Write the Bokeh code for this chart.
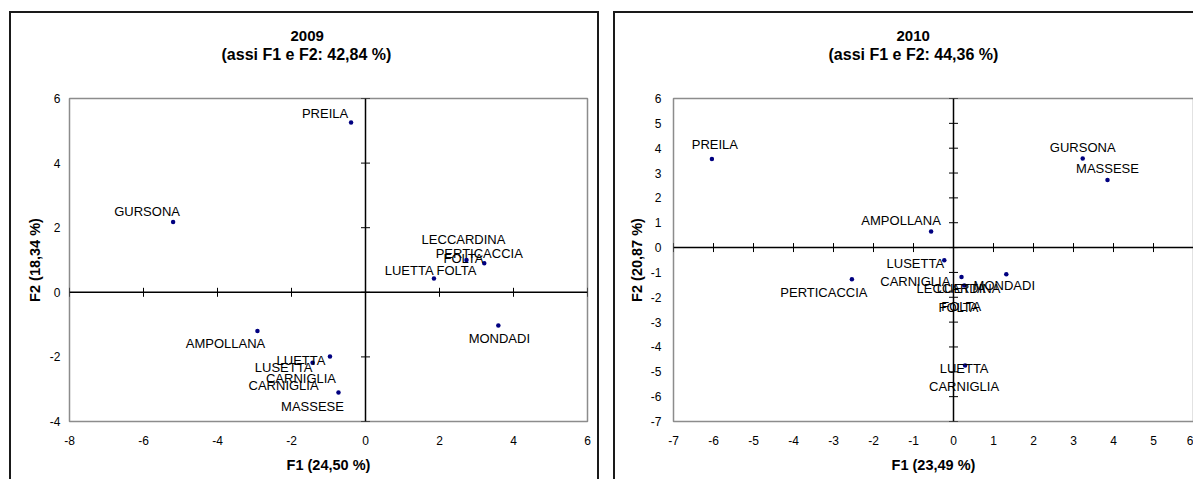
import math
from bokeh.plotting import figure
from bokeh.models import (Range1d, LinearAxis, FixedTicker, Span, Title, ColumnDataSource,
                          CustomJSTickFormatter)
from bokeh.layouts import row
from bokeh.embed import file_html
from bokeh.resources import INLINE
from bokeh.core.properties import value

# ---------------- data ----------------
# 2009
title_2009 = "2009"
subtitle_2009 = "(assi F1 e F2: 42,84 %)"
xlabel_2009 = "F1 (24,50 %)"
ylabel_2009 = "F2 (18,34 %)"
labels_2009 = ["PREILA", "GURSONA", "LECCARDINA\nFOLTA", "PERTICACCIA", "LUETTA FOLTA",
               "MONDADI", "AMPOLLANA", "LUETTA\nCARNIGLIA", "LUSETTA\nCARNIGLIA", "MASSESE"]
f1_2009 = [-0.39, -5.20, 2.73, 3.21, 1.85, 3.59, -2.92, -0.96, -1.43, -0.73]
f2_2009 = [5.26, 2.18, 1.00, 0.90, 0.43, -1.03, -1.20, -1.99, -2.18, -3.10]
xticks_2009 = [-8, -6, -4, -2, 0, 2, 4, 6]
yticks_2009 = [-4, -2, 0, 2, 4, 6]

# 2010
title_2010 = "2010"
subtitle_2010 = "(assi F1 e F2: 44,36 %)"
xlabel_2010 = "F1 (23,49 %)"
ylabel_2010 = "F2 (20,87 %)"
labels_2010 = ["PREILA", "GURSONA", "MASSESE", "AMPOLLANA", "LUSETTA\nCARNIGLIA",
               "PERTICACCIA", "LECCARDINA\nFOLTA", "LUETTA\nFOLTA", "MONDADI", "LUETTA\nCARNIGLIA"]
f1_2010 = [-6.04, 3.23, 3.85, -0.56, -0.23, -2.54, 0.20, 0.27, 1.32, 0.29]
f2_2010 = [3.57, 3.59, 2.72, 0.65, -0.51, -1.27, -1.18, -1.53, -1.07, -4.75]
xticks_2010 = [-7, -6, -5, -4, -3, -2, -1, 0, 1, 2, 3, 4, 5, 6]
yticks_2010 = [-7, -6, -5, -4, -3, -2, -1, 0, 1, 2, 3, 4, 5, 6]

# label placement (pixel offsets of each label from its point) - styling only
dx_2009 = [-26, -26, -3, -5, -3, 1, -32, -29, -29, -26]
dy_2009 = [-9, -10, -11, -10, -8, 13, 12, 13, 14, 14]
dx_2010 = [3, 0, 0, -30, -29, -28, -3, -3, -2, -1]
dy_2010 = [-14, -11, -11, -11, 12, 13, 21, 12, 11, 12]

FONT = "Liberation Sans"
BORDER = "2px solid #1a1a1a"


def make_panel(title, subtitle, xlabel, ylabel, labels, f1, f2, xticks, yticks, dx, dy,
               width, height, mb_left, mb_right, mb_top, mb_bottom,
               main_offset, sub_offset, y_label_standoff, y_axis_label_standoff, borders):
    p = figure(width=width, height=height,
               x_range=Range1d(min(xticks), max(xticks)),
               y_range=Range1d(min(yticks), max(yticks)),
               output_backend="svg", toolbar_location=None, title=None,
               x_axis_type=None, y_axis_type=None,
               min_border_left=mb_left, min_border_right=mb_right,
               min_border_top=mb_top, min_border_bottom=mb_bottom)
    p.background_fill_color = "white"
    p.border_fill_color = "white"
    p.outline_line_color = "#8c8c8c"
    p.outline_line_width = 1.5
    p.styles = borders

    fmt = CustomJSTickFormatter(code="return String(tick);")
    xa = LinearAxis(ticker=FixedTicker(ticks=xticks), formatter=fmt)
    ya = LinearAxis(ticker=FixedTicker(ticks=yticks), formatter=fmt)
    for ax in (xa, ya):
        ax.axis_line_color = None
        ax.major_tick_line_color = None
        ax.minor_tick_line_color = None
        ax.major_tick_in = 0
        ax.major_tick_out = 0
        ax.major_label_text_font = FONT
        ax.major_label_text_font_size = "12px"
        ax.major_label_text_color = "black"
        ax.axis_label_text_font = FONT
        ax.axis_label_text_font_size = "14.5px"
        ax.axis_label_text_font_style = "bold"
        ax.axis_label_text_color = "black"
    xa.axis_label = xlabel
    xa.major_label_standoff = 14
    xa.axis_label_standoff = 9
    ya.axis_label = ylabel
    ya.major_label_standoff = y_label_standoff
    ya.axis_label_standoff = y_axis_label_standoff
    p.add_layout(xa, "below")
    p.add_layout(ya, "left")

    # axes through the origin
    p.add_layout(Span(location=0, dimension="width", line_color="black", line_width=1.5))
    p.add_layout(Span(location=0, dimension="height", line_color="black", line_width=1.5))
    p.scatter(x=xticks, y=[0] * len(xticks), marker="dash", size=9, angle=math.pi / 2,
              line_color="black", line_width=1)
    p.scatter(x=[0] * len(yticks), y=yticks, marker="dash", size=9,
              line_color="black", line_width=1)

    # points and labels
    src = ColumnDataSource(dict(x=f1, y=f2, text=labels, dx=dx, dy=dy))
    p.scatter("x", "y", source=src, size=4.5, fill_color="#000080", line_color=None)
    p.text("x", "y", text="text", source=src, x_offset="dx", y_offset="dy",
           text_align="center", text_baseline="middle", text_font=value(FONT),
           text_font_size="13px", text_line_height=1.23, text_color="black")

    # titles, stacked outward from the frame: spacer, subtitle, main title
    p.add_layout(Title(text=" ", text_font_size="2px", standoff=30), "above")
    p.add_layout(Title(text=subtitle, align="left", offset=sub_offset, standoff=4,
                       text_font=FONT, text_font_size="16px", text_font_style="bold",
                       text_color="black"), "above")
    p.add_layout(Title(text=title, align="left", offset=main_offset, standoff=2,
                       text_font=FONT, text_font_size="15px", text_font_style="bold",
                       text_color="black"), "above")
    return p


p1 = make_panel(title_2009, subtitle_2009, xlabel_2009, ylabel_2009, labels_2009,
                f1_2009, f2_2009, xticks_2009, yticks_2009, dx_2009, dy_2009,
                width=590, height=468, mb_left=58, mb_right=14, mb_top=85, mb_bottom=60,
                main_offset=221, sub_offset=152, y_label_standoff=9, y_axis_label_standoff=4,
                borders={"border-top": BORDER, "border-left": BORDER, "border-right": BORDER})
p1.margin = (11, 0, 0, 9)

p2 = make_panel(title_2010, subtitle_2010, xlabel_2010, ylabel_2010, labels_2010,
                f1_2010, f2_2010, xticks_2010, yticks_2010, dx_2010, dy_2010,
                width=580, height=468, mb_left=58, mb_right=2, mb_top=83, mb_bottom=58,
                main_offset=223, sub_offset=155, y_label_standoff=12, y_axis_label_standoff=3,
                borders={"border-top": BORDER, "border-left": BORDER})
p2.margin = (11, 0, 0, 14)

layout = row(p1, p2)
layout.spacing = 0
open("out.html", "w").write(file_html(layout, INLINE))
